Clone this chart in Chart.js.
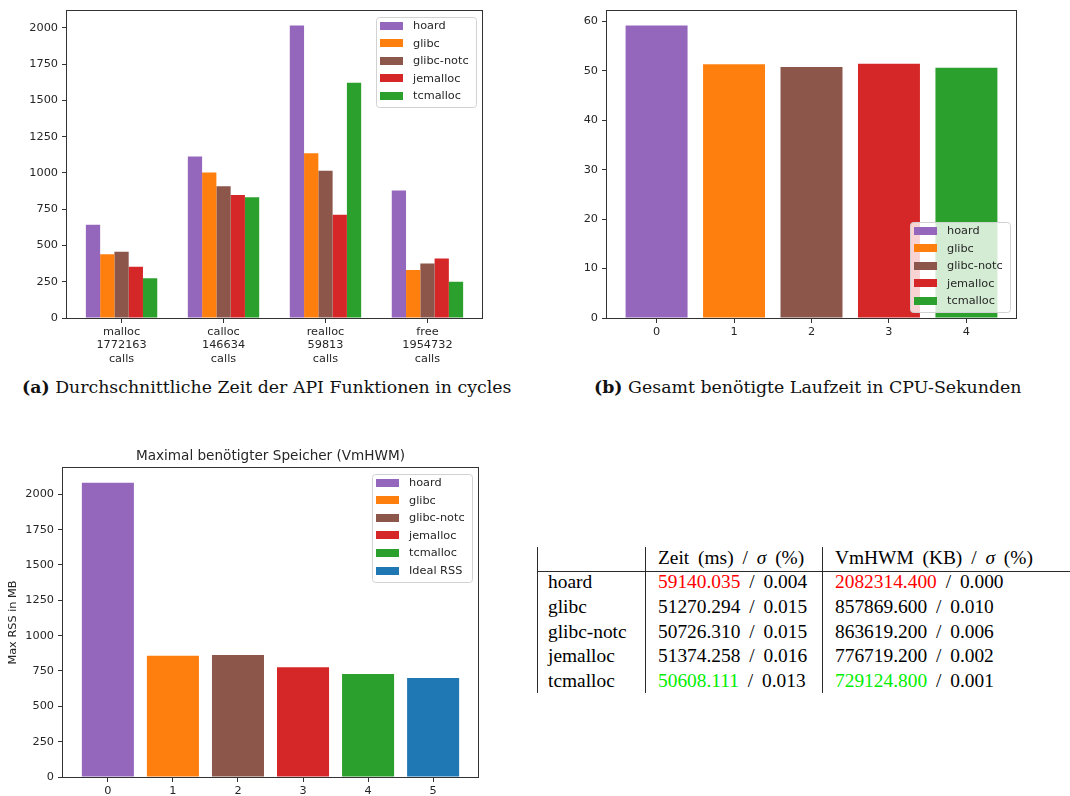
<!DOCTYPE html>
<html>
<head>
<meta charset="utf-8">
<script src="https://cdn.jsdelivr.net/npm/chart.js@4.4.1/dist/chart.umd.min.js"></script>
<style>
  html, body { margin: 0; padding: 0; background: #fff; }
  #page { position: relative; width: 1070px; height: 796px; overflow: hidden; background: #fff; }
  canvas { position: absolute; }
  .cap { position: absolute; font-family: "DejaVu Serif", serif; color: #111; white-space: nowrap; line-height: 1.2; }
  .cell { position: absolute; font-family: "Liberation Serif", serif; font-size: 19.4px; line-height: 24px; color: #000; white-space: nowrap; word-spacing: 4px; }
  .rule { position: absolute; background: #2a2a2a; }
</style>
</head>
<body>
<div id="page">
  <canvas id="chartCycles" width="500" height="370" style="left:0;top:0"></canvas>
  <canvas id="chartRuntime" width="530" height="370" style="left:540px;top:0"></canvas>
  <canvas id="chartMemory" width="500" height="366" style="left:0;top:430px"></canvas>
  <div class="cap" id="capA"><b>(a)</b> Durchschnittliche Zeit der API Funktionen in cycles</div>
  <div class="cap" id="capB"><b>(b)</b> Gesamt benötigte Laufzeit in CPU-Sekunden</div>
  <div id="table"></div>
</div>
<script>
// ---- data ----
const allocators = ['hoard', 'glibc', 'glibc-notc', 'jemalloc', 'tcmalloc'];
const allocColors = ['#9467bd', '#ff7f0e', '#8c564b', '#d62728', '#2ca02c'];

const apiFunctions = ['malloc', 'calloc', 'realloc', 'free'];
const apiCalls = [1772163, 146634, 59813, 1954732];

// average cycles per API call, one array per allocator
const cyclesHoard    = [643, 1113, 2016, 878];
const cyclesGlibc    = [440, 1003, 1136, 331];
const cyclesGlibcNotc = [456, 908, 1015, 376];
const cyclesJemalloc = [353, 848, 711, 410];
const cyclesTcmalloc = [274, 832, 1621, 249];

// total runtime and peak memory per allocator
const timeMs     = [59140.035, 51270.294, 50726.310, 51374.258, 50608.111];
const timeSigma  = [0.004, 0.015, 0.015, 0.016, 0.013];
const vmhwmKb    = [2082314.400, 857869.600, 863619.200, 776719.200, 729124.800];
const vmhwmSigma = [0.000, 0.010, 0.006, 0.002, 0.001];

const idealRssLabel = 'Ideal RSS';
const idealRssColor = '#1f77b4';
const idealRssMb = 700;

// ---- shared look ----
const TEXT = '#262626';
const AXIS = '#333';
const FS = 11.3;
Chart.defaults.font.family = '"DejaVu Sans", sans-serif';
Chart.defaults.font.size = FS;
Chart.defaults.color = TEXT;

// axes frame, boxed legend and centred axes title
const mplDecor = {
  id: 'mplDecor',
  afterDraw(chart, args, opts) {
    const ctx = chart.ctx, a = chart.chartArea;
    ctx.save();
    const L = Math.round(a.left) - 0.5, T = Math.round(a.top) - 0.5;
    const R = Math.round(a.right) + 0.5, B = Math.round(a.bottom) + 0.5;
    ctx.strokeStyle = AXIS; ctx.lineWidth = 1;
    ctx.strokeRect(L, T, R - L, B - T);

    if (opts.legend) {
      const items = chart.data.datasets.map(d => ({ label: d.label, color: d.backgroundColor }));
      ctx.font = FS + 'px "DejaVu Sans"';
      const maxW = Math.max(...items.map(it => ctx.measureText(it.label).width));
      const rowH = 17.6;
      const w = Math.round(4 + 23 + 10 + maxW + 7);
      const h = Math.round(items.length * rowH + 2);
      const x = Math.round(a.right) - 6 - w;
      const y = opts.legend === 'lower right' ? Math.round(a.bottom) - 6 - h : Math.round(a.top) + 6;
      ctx.beginPath();
      if (ctx.roundRect) ctx.roundRect(x + 0.5, y + 0.5, w, h, 3); else ctx.rect(x + 0.5, y + 0.5, w, h);
      ctx.fillStyle = 'rgba(255,255,255,0.8)'; ctx.fill();
      ctx.strokeStyle = '#d2d2d2'; ctx.stroke();
      items.forEach((it, i) => {
        const cy = y + 8.5 + i * rowH;
        ctx.fillStyle = it.color;
        ctx.fillRect(x + 4, Math.round(cy - 4), 23, 8);
        ctx.fillStyle = TEXT; ctx.textAlign = 'left'; ctx.textBaseline = 'middle';
        ctx.fillText(it.label, x + 37, cy + 0.5);
      });
    }
    if (opts.title) {
      ctx.font = '13.6px "DejaVu Sans"';
      ctx.fillStyle = TEXT; ctx.textAlign = 'center'; ctx.textBaseline = 'alphabetic';
      ctx.fillText(opts.title, (a.left + a.right) / 2, opts.titleY);
    }
    ctx.restore();
  }
};
Chart.register(mplDecor);

function axisGrid() {
  return { display: true, drawOnChartArea: false, drawTicks: true, tickLength: 5,
           tickColor: AXIS, tickWidth: 1, offset: false };
}

function makeOptions(cfg) {
  return {
    responsive: false, animation: false, devicePixelRatio: 1,
    layout: { padding: cfg.padding },
    plugins: {
      legend: { display: false }, tooltip: { enabled: false }, title: { display: false },
      mplDecor: { legend: cfg.legend, title: cfg.title, titleY: cfg.titleY }
    },
    datasets: { bar: { categoryPercentage: cfg.groupWidth, barPercentage: 1.0, borderWidth: 0 } },
    scales: {
      x: {
        type: 'linear', min: cfg.xMin, max: cfg.xMax, offset: false, stacked: cfg.stackX,
        grid: axisGrid(), border: { display: false },
        ticks: { stepSize: 1, padding: 2, maxRotation: 0, autoSkip: false, includeBounds: false,
                 color: TEXT, callback: cfg.xLabel },
        afterFit: s => { s.height = cfg.xHeight; }
      },
      y: {
        type: 'linear', min: 0, max: cfg.yMax, grid: axisGrid(), border: { display: false },
        ticks: { stepSize: cfg.yStep, padding: 4, includeBounds: false, color: TEXT,
                 callback: v => String(v) },
        title: cfg.yTitle ? { display: true, text: cfg.yTitle, color: TEXT,
                              font: { size: FS }, padding: { top: 6.4, bottom: 0 } } : { display: false },
        afterFit: s => { s.width = cfg.yWidth; }
      }
    }
  };
}

// one coloured bar per series, all sharing the same slot width
function singleBarSeries(labels, colors, values) {
  return labels.map((lab, i) => ({
    label: lab, backgroundColor: colors[i],
    data: values.map((v, j) => (j === i ? v : null))
  }));
}

// (a) average cycles per API function
const cycleSeries = [cyclesHoard, cyclesGlibc, cyclesGlibcNotc, cyclesJemalloc, cyclesTcmalloc];
new Chart(document.getElementById('chartCycles'), {
  type: 'bar',
  data: {
    labels: apiFunctions.map((_, i) => i),
    datasets: allocators.map((name, k) => ({ label: name, backgroundColor: allocColors[k], data: cycleSeries[k] }))
  },
  options: makeOptions({
    padding: { left: 0, top: 10, right: 18, bottom: 0 }, yWidth: 67, xHeight: 52,
    xMin: -0.535, xMax: 3.535, yMax: 2117, yStep: 250, groupWidth: 0.7, stackX: false,
    legend: 'upper right',
    xLabel: v => (Number.isInteger(v) && apiFunctions[v] !== undefined)
      ? [apiFunctions[v], String(apiCalls[v]), 'calls'] : ''
  })
});

// (b) total runtime in CPU seconds
const runtimeSec = timeMs.map(v => v / 1000);
new Chart(document.getElementById('chartRuntime'), {
  type: 'bar',
  data: { labels: allocators.map((_, i) => i), datasets: singleBarSeries(allocators, allocColors, runtimeSec) },
  options: makeOptions({
    padding: { left: 0, top: 10, right: 54, bottom: 0 }, yWidth: 67, xHeight: 52,
    xMin: -0.64, xMax: 4.64, yMax: 62.1, yStep: 10, groupWidth: 0.8, stackX: true,
    legend: 'lower right', xLabel: v => String(v)
  })
});

// (c) peak resident memory in MB
const memLabels = allocators.concat([idealRssLabel]);
const memColors = allocColors.concat([idealRssColor]);
const memMb = vmhwmKb.map(v => v / 1000).concat([idealRssMb]);
new Chart(document.getElementById('chartMemory'), {
  type: 'bar',
  data: { labels: memLabels.map((_, i) => i), datasets: singleBarSeries(memLabels, memColors, memMb) },
  options: makeOptions({
    padding: { left: 0, top: 38, right: 22, bottom: 0 }, yWidth: 63, xHeight: 19,
    xMin: -0.69, xMax: 5.69, yMax: 2186, yStep: 250, groupWidth: 0.8, stackX: true,
    legend: 'upper right', title: 'Maximal benötigter Speicher (VmHWM)', titleY: 30,
    yTitle: 'Max RSS in MB', xLabel: v => String(v)
  })
});

// captions sized to their line width
function placeCaption(id, left, width, centerY) {
  const el = document.getElementById(id);
  el.style.fontSize = '20px';
  const w = el.getBoundingClientRect().width;
  const size = 20 * width / w;
  el.style.fontSize = size + 'px';
  el.style.left = left + 'px';
  el.style.top = (centerY - 0.6 * size) + 'px';
}
placeCaption('capA', 22, 490, 387);
placeCaption('capB', 594, 428, 387);

// summary table
const table = document.getElementById('table');
function addRule(x, y, w, h) {
  const d = document.createElement('div');
  d.className = 'rule';
  Object.assign(d.style, { left: x + 'px', top: y + 'px', width: w + 'px', height: h + 'px' });
  table.appendChild(d);
}
function addCell(x, y, html) {
  const d = document.createElement('div');
  d.className = 'cell';
  d.style.left = x + 'px'; d.style.top = y + 'px';
  d.innerHTML = html;
  table.appendChild(d);
}
const colX = [548, 658, 835];
addRule(537, 547, 1, 146);
addRule(645, 547, 1, 146);
addRule(822, 547, 1, 146);
addRule(537, 571, 533, 1);
addCell(colX[1], 546, 'Zeit (ms) / <i>σ</i> (%)');
addCell(colX[2], 546, 'VmHWM (KB) / <i>σ</i> (%)');

function mark(values, i, text) {
  const hi = values.indexOf(Math.max(...values));
  const lo = values.indexOf(Math.min(...values));
  if (i === hi) return '<span style="color:#ff0000">' + text + '</span>';
  if (i === lo) return '<span style="color:#00ee00">' + text + '</span>';
  return text;
}
allocators.forEach((name, i) => {
  const y = 570.3 + i * 24.6;
  addCell(colX[0], y, name);
  addCell(colX[1], y, mark(timeMs, i, timeMs[i].toFixed(3)) + ' / ' + timeSigma[i].toFixed(3));
  addCell(colX[2], y, mark(vmhwmKb, i, vmhwmKb[i].toFixed(3)) + ' / ' + vmhwmSigma[i].toFixed(3));
});
</script>
</body>
</html>
